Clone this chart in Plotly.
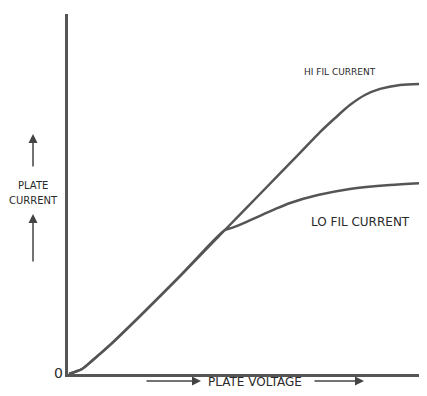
import plotly.graph_objects as go

# Data (arbitrary units: plate voltage 0-100, plate current 0-100)
common_v = [0.3, 2.0, 4.0, 7.1, 12.0, 20.5, 31.9, 44.7]
common_i = [0.0, 0.6, 1.4, 3.9, 8.1, 16.1, 27.2, 40.0]

hi_v = common_v + [54.7, 66.1, 71.8, 76.1, 80.3, 84.6, 88.9, 94.6, 102.3]
hi_i = common_i + [50.0, 61.4, 67.2, 71.1, 74.7, 77.5, 79.2, 80.3, 80.6]

lo_v = common_v + [46.7, 49.6, 53.9, 59.0, 63.3, 71.2, 80.3, 91.7, 102.3]
lo_i = common_i + [40.6, 41.7, 43.6, 45.8, 47.5, 49.7, 51.4, 52.5, 53.1]

LINE = "#555555"
FONT = "DejaVu Sans, sans-serif"

fig = go.Figure()
for v, i, n in [(hi_v, hi_i, "HI FIL CURRENT"), (lo_v, lo_i, "LO FIL CURRENT")]:
    fig.add_trace(go.Scatter(x=v, y=i, mode="lines", name=n, hoverinfo="skip",
                             line=dict(color=LINE, width=2.5, shape="spline", smoothing=0.8)))

# screen pixel -> paper coordinates (page has 8px body margin)
def px(p):
    return (p - 68) / 351.0

def py(p):
    return (374 - p) / 360.0

txt = dict(color="#2a2a2a", family=FONT)
ann = []
def label(x, y, text, size):
    ann.append(dict(x=px(x), y=py(y), xref="paper", yref="paper", text=text,
                    xanchor="center", yanchor="middle",
                    showarrow=False, font=dict(size=size, **txt)))

label(340, 72, "HI FIL CURRENT", 9)
label(360, 222, "LO FIL CURRENT", 12)
label(255, 382, "PLATE VOLTAGE", 12)
label(33, 185, "PLATE", 10)
label(33, 201, "CURRENT", 10)
label(58, 373, "0", 14)

def arrow(x0, y0, x1, y1):
    ann.append(dict(x=px(x1), y=py(y1), xref="paper", yref="paper",
                    ax=x0 - x1, ay=y0 - y1, text="",
                    showarrow=True, arrowhead=2, arrowsize=1.2, arrowwidth=1.5,
                    arrowcolor="#444444"))

arrow(145, 381, 201, 381)
arrow(313, 381, 364, 381)
arrow(33, 168, 33, 134)
arrow(33, 263, 33, 214)

fig.update_layout(
    width=411, height=380,
    margin=dict(l=60, r=0, t=6, b=14),
    paper_bgcolor="white", plot_bgcolor="white",
    showlegend=False,
    annotations=ann,
)
fig.update_xaxes(range=[0, 100], showgrid=False, zeroline=False, showticklabels=False,
                 ticks="", showline=True, linecolor=LINE, linewidth=2.5)
fig.update_yaxes(range=[0, 100], showgrid=False, zeroline=False, showticklabels=False,
                 ticks="", showline=True, linecolor=LINE, linewidth=2.5)

fig.write_html("out.html")
